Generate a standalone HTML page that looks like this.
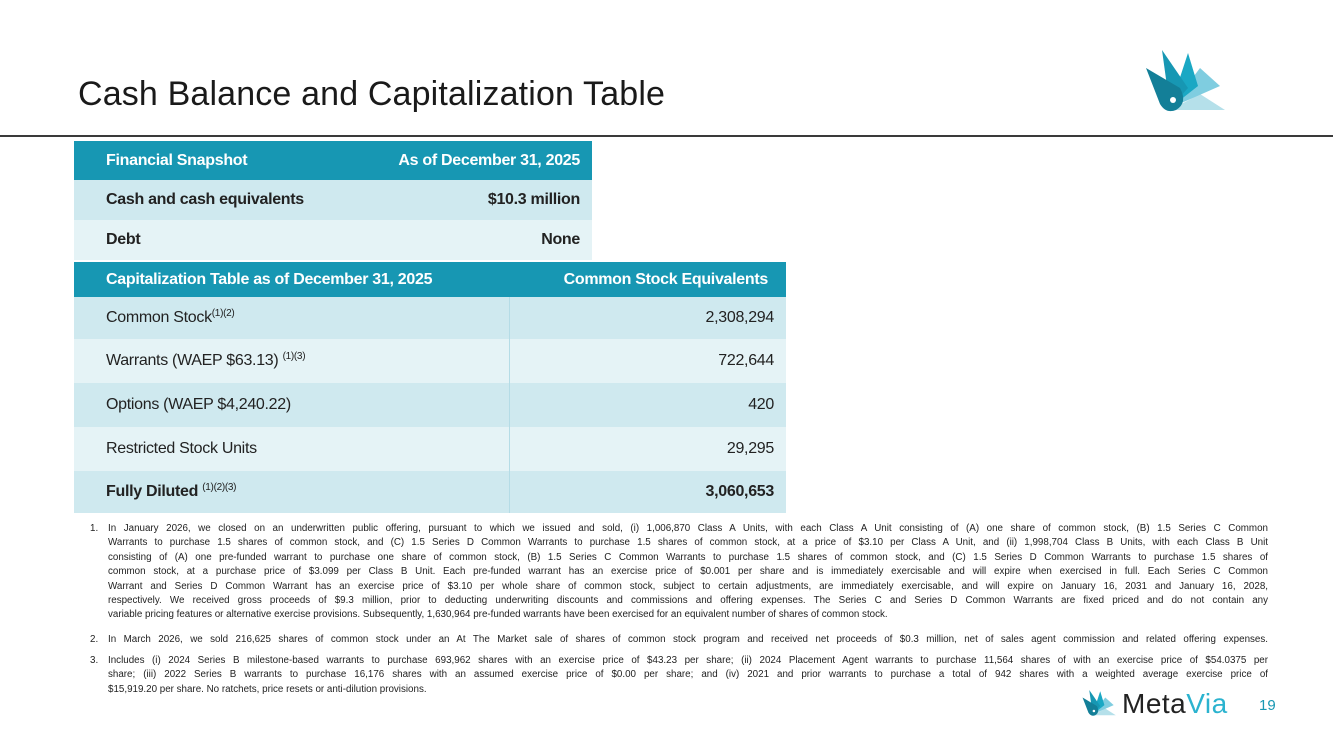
<!DOCTYPE html>
<html><head><meta charset="utf-8"><style>
*{margin:0;padding:0;box-sizing:border-box}
body{width:1333px;height:749px;background:#fff;position:relative;overflow:hidden;font-family:"Liberation Sans",sans-serif;color:#222}
.title{position:absolute;left:78px;top:75px;font-size:34px;color:#1a1a1a;letter-spacing:0.15px}
.rule{position:absolute;left:0;top:135px;width:1333px;height:1.5px;background:#3a3a3a}
.row{position:absolute;display:flex;align-items:center;font-size:16px;letter-spacing:-0.3px}
.row .l{padding-left:32px;flex:1}
.row .r{padding-right:12px;text-align:right}
.hd{background:#1797b3;color:#fff;font-weight:bold}
.a{background:#cfe9ef}
.b{background:#e5f3f6}
.bold{font-weight:bold}
sup{font-size:10px;vertical-align:6px;line-height:0}
.c2 .l{width:436px;flex:none;height:100%;display:flex;align-items:center;border-right:1px solid #b5dce6}
.c2 .r{flex:1}
.fn{position:absolute;font-size:9.8px;color:#222;line-height:14.4px}
.fn .n{position:absolute;left:0}
.fn .t{position:absolute;left:18px;width:1160px}
.fn .t div{text-align:justify;text-align-last:justify;white-space:nowrap;overflow:visible}
.fn .t div.last{text-align-last:left}
</style></head><body>
<div class="title">Cash Balance and Capitalization Table</div>
<svg style="position:absolute;left:1140px;top:48px" width="95" height="66" viewBox="0 0 95 66">
<polygon points="30,62 85,62 60,46" fill="#b5e0ea"/>
<polygon points="30,60 60,20 80,38" fill="#7fcde0"/>
<polygon points="30,60 48,5 58,38" fill="#1aa8c4"/>
<polygon points="30,60 22,2 48,40" fill="#1797b3"/>
<path d="M6,20 L40,40 Q48,55 36,62 Q26,66 20,56 Z" fill="#137f98"/>
<circle cx="33" cy="52" r="3" fill="#fff"/>
</svg>
<div class="rule"></div>

<div class="row hd" style="left:74px;top:141px;width:518px;height:39px"><div class="l">Financial Snapshot</div><div class="r">As of December 31, 2025</div></div>
<div class="row a bold" style="left:74px;top:180px;width:518px;height:40px"><div class="l">Cash and cash equivalents</div><div class="r">$10.3 million</div></div>
<div class="row b bold" style="left:74px;top:220px;width:518px;height:40px"><div class="l">Debt</div><div class="r">None</div></div>

<div class="row hd" style="left:74px;top:262px;width:712px;height:35px"><div class="l">Capitalization Table as of December 31, 2025</div><div class="r" style="padding-right:18px">Common Stock Equivalents</div></div>
<div class="row a c2" style="left:74px;top:297px;width:712px;height:42px"><div class="l"><span>Common Stock<sup>(1)(2)</sup></span></div><div class="r">2,308,294</div></div>
<div class="row b c2" style="left:74px;top:339px;width:712px;height:44px"><div class="l"><span>Warrants (WAEP $63.13) <sup>(1)(3)</sup></span></div><div class="r">722,644</div></div>
<div class="row a c2" style="left:74px;top:383px;width:712px;height:44px"><div class="l"><span>Options (WAEP $4,240.22)</span></div><div class="r">420</div></div>
<div class="row b c2" style="left:74px;top:427px;width:712px;height:44px"><div class="l"><span>Restricted Stock Units</span></div><div class="r">29,295</div></div>
<div class="row a c2 bold" style="left:74px;top:471px;width:712px;height:42px"><div class="l"><span>Fully Diluted <sup style="font-weight:normal">(1)(2)(3)</sup></span></div><div class="r">3,060,653</div></div>

<div class="fn" style="left:90px;top:522px"><div class="n">1.</div><div class="t">
<div>In January 2026, we closed on an underwritten public offering, pursuant to which we issued and sold, (i) 1,006,870 Class A Units, with each Class A Unit consisting of (A) one share of common stock, (B) 1.5 Series C Common</div>
<div>Warrants to purchase 1.5 shares of common stock, and (C) 1.5 Series D Common Warrants to purchase 1.5 shares of common stock, at a price of $3.10 per Class A Unit, and (ii) 1,998,704 Class B Units, with each Class B Unit</div>
<div>consisting of (A) one pre-funded warrant to purchase one share of common stock, (B) 1.5 Series C Common Warrants to purchase 1.5 shares of common stock, and (C) 1.5 Series D Common Warrants to purchase 1.5 shares of</div>
<div>common stock, at a purchase price of $3.099 per Class B Unit. Each pre-funded warrant has an exercise price of $0.001 per share and is immediately exercisable and will expire when exercised in full. Each Series C Common</div>
<div>Warrant and Series D Common Warrant has an exercise price of $3.10 per whole share of common stock, subject to certain adjustments, are immediately exercisable, and will expire on January 16, 2031 and January 16, 2028,</div>
<div>respectively. We received gross proceeds of $9.3 million, prior to deducting underwriting discounts and commissions and offering expenses. The Series C and Series D Common Warrants are fixed priced and do not contain any</div>
<div class="last">variable pricing features or alternative exercise provisions. Subsequently, 1,630,964 pre-funded warrants have been exercised for an equivalent number of shares of common stock.</div>
</div></div>
<div class="fn" style="left:90px;top:633px"><div class="n">2.</div><div class="t">
<div>In March 2026, we sold 216,625 shares of common stock under an At The Market sale of shares of common stock program and received net proceeds of $0.3 million, net of sales agent commission and related offering expenses.</div>
</div></div>
<div class="fn" style="left:90px;top:654px"><div class="n">3.</div><div class="t">
<div>Includes (i) 2024 Series B milestone-based warrants to purchase 693,962 shares with an exercise price of $43.23 per share; (ii) 2024 Placement Agent warrants to purchase 11,564 shares of with an exercise price of $54.0375 per</div>
<div>share; (iii) 2022 Series B warrants to purchase 16,176 shares with an assumed exercise price of $0.00 per share; and (iv) 2021 and prior warrants to purchase a total of 942 shares with a weighted average exercise price of</div>
<div class="last">$15,919.20 per share. No ratchets, price resets or anti-dilution provisions.</div>
</div></div>

<svg style="position:absolute;left:1080px;top:688px" width="40" height="30" viewBox="0 0 95 66">
<polygon points="30,62 85,62 60,46" fill="#b5e0ea"/>
<polygon points="30,60 60,20 80,38" fill="#7fcde0"/>
<polygon points="30,60 48,5 58,38" fill="#1aa8c4"/>
<polygon points="30,60 22,2 48,40" fill="#1797b3"/>
<path d="M6,20 L40,40 Q48,55 36,62 Q26,66 20,56 Z" fill="#137f98"/>
<circle cx="33" cy="52" r="3" fill="#fff"/>
</svg>
<div style="position:absolute;left:1122px;top:688px;font-size:28px;color:#222;letter-spacing:0.5px">Meta<span style="color:#2bb3cf">Via</span></div>
<div style="position:absolute;left:1259px;top:697px;font-size:15px;color:#1797b3">19</div>
</body></html>
